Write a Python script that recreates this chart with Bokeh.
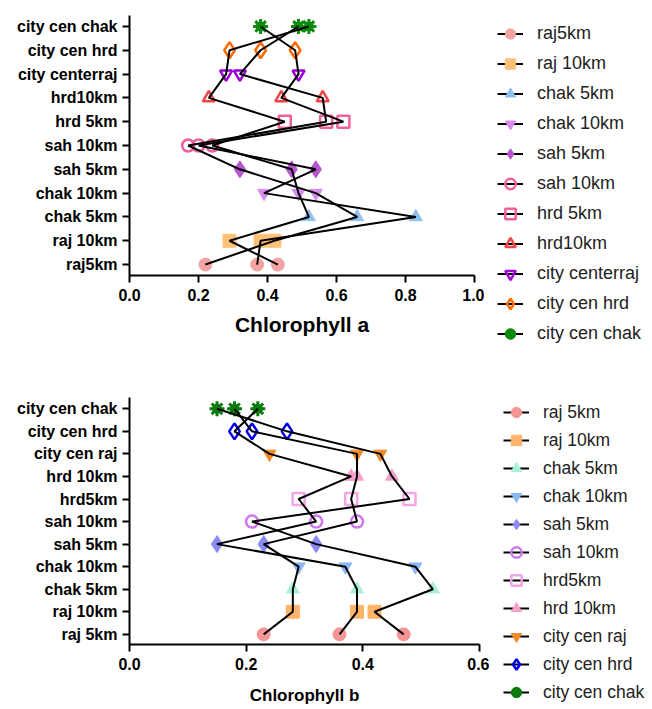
from bokeh.plotting import figure
from bokeh.layouts import column, row
from bokeh.models import Range1d, FixedTicker, Legend, LegendItem
from bokeh.embed import file_html
from bokeh.resources import INLINE

# ---------------- data: Chlorophyll a ----------------
cats_a = ["raj5km", "raj 10km", "chak 5km", "chak 10km", "sah 5km", "sah 10km",
          "hrd 5km", "hrd10km", "city centerraj", "city cen hrd", "city cen chak"]
rep1_a = [0.37, 0.38, 0.83, 0.39, 0.54, 0.20, 0.62, 0.44, 0.49, 0.48, 0.38]
rep2_a = [0.22, 0.42, 0.66, 0.54, 0.32, 0.17, 0.57, 0.56, 0.32, 0.38, 0.49]
rep3_a = [0.43, 0.29, 0.52, 0.49, 0.47, 0.24, 0.45, 0.23, 0.28, 0.29, 0.52]
ticks_a = [0.0, 0.2, 0.4, 0.6, 0.8, 1.0]

# ---------------- data: Chlorophyll b ----------------
cats_b = ["raj 5km", "raj 10km", "chak 5km", "chak 10km", "sah 5km", "sah 10km",
          "hrd5km", "hrd 10km", "city cen raj", "city cen hrd", "city cen chak"]
rep1_b = [0.23, 0.28, 0.28, 0.29, 0.23, 0.39, 0.38, 0.39, 0.39, 0.21, 0.18]
rep2_b = [0.36, 0.39, 0.39, 0.37, 0.15, 0.32, 0.29, 0.38, 0.24, 0.18, 0.22]
rep3_b = [0.47, 0.42, 0.52, 0.49, 0.32, 0.21, 0.48, 0.45, 0.43, 0.27, 0.15]
ticks_b = [0.0, 0.2, 0.4, 0.6]

# marker styles: (marker, colour, filled)
styles_a = [("circle", "#F4A3A3", True), ("square", "#FFC078", True),
            ("triangle", "#8FC0F0", True), ("inverted_triangle", "#D98BEF", True),
            ("diamond", "#B655D0", True), ("circle", "#F0609A", False),
            ("square", "#F0609A", False), ("triangle", "#F04545", False),
            ("inverted_triangle", "#9B00D6", False), ("diamond", "#FF6A00", False),
            ("burst", "#0B8A0B", True)]
styles_b = [("circle", "#F59595", True), ("square", "#FFB46A", True),
            ("triangle", "#A8F0D8", True), ("inverted_triangle", "#8AB8F2", True),
            ("diamond", "#8A8AF2", True), ("circle", "#CC77EE", False),
            ("square", "#F2A6E6", False), ("triangle", "#F5A0C8", True),
            ("inverted_triangle", "#F08A28", True), ("diamond", "#0000EE", False),
            ("burst", "#0B7A0B", True)]

FONT = "Liberation Sans"
W = 652


def add_markers(p, xs, ys, mk, col, filled):
    rends = []
    if mk == "burst":
        rends.append(p.scatter(xs, ys, marker="circle", size=9, fill_color=col, line_color=col))
        rends.append(p.scatter(xs, ys, marker="asterisk", size=15, line_color=col, line_width=3))
        return rends
    size = 17 if mk == "diamond" else 13
    if filled:
        rends.append(p.scatter(xs, ys, marker=mk, size=size,
                               fill_color=col, line_color=col, line_width=1))
    else:
        rends.append(p.scatter(xs, ys, marker=mk, size=size - 1,
                               fill_alpha=0.0, line_color=col, line_width=2.5))
    return rends


def build(cats, reps, styles, ticks, xlabel, xlabel_size, lab_standoff, height,
          frame_w, bt, bb, ypad_lo, ypad_hi, leg_x, leg_y, glyph_h, leg_spacing, leg_font):
    n = len(cats)
    ypos = list(range(n))
    main_w = 129 + frame_w + 10
    p = figure(width=main_w, height=height, output_backend="svg", toolbar_location=None,
               x_range=Range1d(0, ticks[-1]), y_range=Range1d(-ypad_lo, n - 1 + ypad_hi),
               min_border_left=129, min_border_right=10,
               min_border_top=bt, min_border_bottom=bb)
    p.frame_align = False
    p.outline_line_color = None
    p.grid.visible = False

    # separate panel that only holds the legend
    lg = figure(width=W - main_w, height=height, output_backend="svg",
                toolbar_location=None, x_range=Range1d(0, 1), y_range=Range1d(0, 1),
                x_axis_location=None, y_axis_location=None,
                min_border_left=0, min_border_right=0, min_border_top=0, min_border_bottom=0)
    lg.frame_align = False
    lg.outline_line_color = None
    lg.grid.visible = False

    for i, (mk, col, filled) in enumerate(styles):
        xs = [r[i] for r in reps]
        ys = [ypos[i]] * len(reps)
        add_markers(p, xs, ys, mk, col, filled)

    for r in reps:
        p.line(r, ypos, line_color="black", line_width=2)

    # legend proxies (kept outside the legend panel's visible range)
    hx, hy = [-5.0], [-5.0]
    proxy_line = lg.line(hx, hy, line_color="black", line_width=2)
    items = []
    for name, (mk, col, filled) in zip(cats, styles):
        rends = [proxy_line] + add_markers(lg, hx, hy, mk, col, filled)
        items.append(LegendItem(label=name, renderers=rends))

    p.yaxis.ticker = FixedTicker(ticks=ypos)
    p.yaxis.major_label_overrides = {i: c for i, c in enumerate(cats)}
    p.xaxis.ticker = FixedTicker(ticks=ticks)
    p.xaxis.major_label_overrides = {t: f"{t:.1f}" for t in ticks}
    for ax in (p.xaxis, p.yaxis):
        ax.axis_line_width = 2
        ax.axis_line_color = "black"
        ax.major_tick_line_width = 2
        ax.major_tick_line_color = "black"
        ax.major_tick_out = 7
        ax.major_tick_in = 0
        ax.minor_tick_line_color = None
        ax.major_label_text_font = FONT
        ax.major_label_text_font_style = "bold"
        ax.major_label_text_font_size = "16px"
        ax.major_label_text_color = "black"
    p.yaxis.major_label_standoff = 5
    p.xaxis.major_label_standoff = 6
    p.xaxis.axis_label = xlabel
    p.xaxis.axis_label_text_font = FONT
    p.xaxis.axis_label_text_font_style = "bold"
    p.xaxis.axis_label_text_font_size = xlabel_size
    p.xaxis.axis_label_standoff = lab_standoff
    p.xaxis.axis_label_text_color = "black"

    leg = Legend(items=items, location=(leg_x, leg_y), orientation="vertical",
                 padding=0, margin=0, spacing=leg_spacing,
                 glyph_width=26, glyph_height=glyph_h, label_height=20,
                 label_standoff=14, label_text_font=FONT,
                 label_text_font_size=leg_font, label_text_color="#222222",
                 border_line_color=None, background_fill_alpha=0.0)
    lg.add_layout(leg, "center")
    return row(p, lg, spacing=0)


r1 = build(cats_a, [rep1_a, rep2_a, rep3_a], styles_a, ticks_a, "Chlorophyll a", "21px", 9,
           352, 345, 15, 77, 0.46, 0.46, 13, 5, 27, 3, "18px")
r2 = build(cats_b, [rep1_b, rep2_b, rep3_b], styles_b, ticks_b, "Chlorophyll b", "17px", 13,
           355, 350, 45, 61, 0.45, 0.5, 14, 2, 26, 2, "17.5px")

layout = column(r1, r2, spacing=0)
open("out.html", "w").write(file_html(layout, INLINE))
